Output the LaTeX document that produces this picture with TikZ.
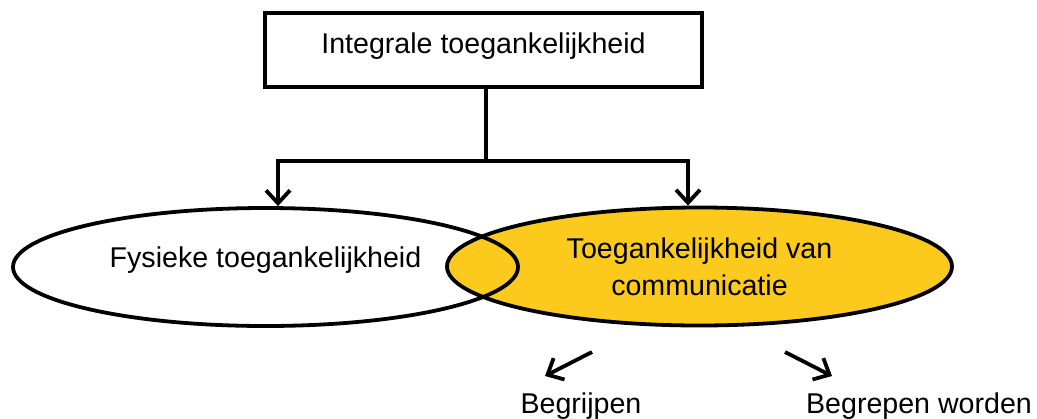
\documentclass[tikz,border=0pt]{standalone}
\usepackage{fontspec}
\setmainfont{Liberation Sans}
\usetikzlibrary{arrows.meta,positioning,shapes.geometric}
\definecolor{commYellow}{HTML}{FCCA1C}

\begin{document}
\begin{tikzpicture}[x=0.5pt, y=-0.5pt,
    txt/.style={font=\fontsize{14.3}{17.5}\selectfont},
    topbox/.style={draw, txt, line width=1.9pt, minimum width=218.5pt, minimum height=37pt, inner sep=0pt, text depth=7pt},
    ell/.style={draw, ellipse, txt, line width=1.9pt, minimum width=252.5pt, minimum height=59pt, inner sep=0pt, align=center},
    lbl/.style={txt, inner sep=0pt, anchor=base},
    arr/.style={-{Straight Barb[length=6.5pt,width=12pt]}, line width=1.9pt}
  ]
    \useasboundingbox (0,0) rectangle (1037,418);
    \node[topbox] (top) at (483.5,50) {Integrale toegankelijkheid};
    \node[ell, fill=commYellow, text height=29pt] (comm) at (699.5,266.5) {Toegankelijkheid van\\[0.9pt]communicatie};
    \node[ell, text depth=10pt] (fys) at (265.5,267) {Fysieke toegankelijkheid};
    \draw[arr] ([xshift=1.25pt]top.south) -- ++(0,72) -| ([xshift=6.25pt]fys.north);
    \draw[arr] ([xshift=1.25pt]top.south) -- ++(0,72) -| ([xshift=-5.75pt]comm.north);
    \node[lbl] (begrijpen) at (581,413) {Begrijpen};
    \node[lbl] (begrepen) at (919,413) {Begrepen worden};
    \coordinate (b1) at (592,352);
    \coordinate (b2) at (785,352);
    \draw[arr] (b1) -- (545,376);
    \draw[arr] (b2) -- (832,376);
\end{tikzpicture}
\end{document}
